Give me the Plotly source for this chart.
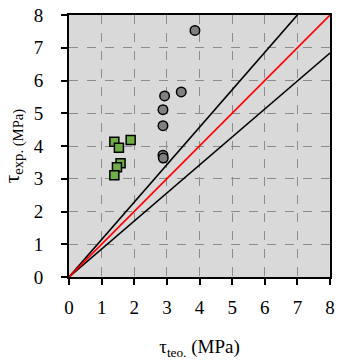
import plotly.graph_objects as go

# Data
circ_x = [3.86, 3.44, 2.93, 2.88, 2.88, 2.88, 2.89]
circ_y = [7.53, 5.65, 5.53, 5.11, 4.62, 3.72, 3.63]
sq_x = [1.39, 1.53, 1.89, 1.58, 1.47, 1.39]
sq_y = [4.13, 3.95, 4.18, 3.47, 3.35, 3.11]
line_x = [0, 8]
upper_slope = 1.143
lower_slope = 0.855
tick_vals = [0, 1, 2, 3, 4, 5, 6, 7, 8]

SERIF = "Liberation Serif"

fig = go.Figure()
fig.add_trace(go.Scatter(x=line_x, y=[v * upper_slope for v in line_x], mode="lines",
                         line=dict(color="black", width=1.6), showlegend=False))
fig.add_trace(go.Scatter(x=line_x, y=[v * lower_slope for v in line_x], mode="lines",
                         line=dict(color="black", width=1.6), showlegend=False))
fig.add_trace(go.Scatter(x=line_x, y=line_x, mode="lines",
                         line=dict(color="#FF0000", width=1.6), showlegend=False))
fig.add_trace(go.Scatter(x=sq_x, y=sq_y, mode="markers",
                         marker=dict(symbol="square", size=9, color="#70AD47",
                                     line=dict(color="black", width=1.5)), showlegend=False))
fig.add_trace(go.Scatter(x=circ_x, y=circ_y, mode="markers",
                         marker=dict(symbol="circle", size=9.5, color="#808080",
                                     line=dict(color="black", width=1.5)), showlegend=False))

axis_common = dict(
    range=[0, 8], tickvals=tick_vals, showgrid=True, gridcolor="#8C8C8C",
    griddash="dash", gridwidth=1.3, zeroline=False, showline=True, linecolor="black",
    linewidth=2, mirror=True, ticks="outside", ticklen=6, tickwidth=1.5, tickcolor="black",
    tickfont=dict(family=SERIF, size=19, color="black"), automargin=False,
    ticklabeloverflow="allow",
)
fig.update_xaxes(**axis_common, ticklabelstandoff=6,
                 title=dict(text="τ<sub>teo.</sub> (MPa)",
                            font=dict(family=SERIF, size=19, color="black"),
                            standoff=24))
fig.update_yaxes(**axis_common, ticklabelstandoff=14,
                 title=dict(text="τ<sub>exp. (MPa)</sub>",
                            font=dict(family=SERIF, size=21, color="black"),
                            standoff=10))
fig.update_layout(
    width=339, height=360,
    margin=dict(l=69, r=9, t=15, b=83),
    plot_bgcolor="#D9D9D9", paper_bgcolor="white",
    font=dict(family=SERIF),
)
fig.write_html("out.html", config={"displayModeBar": False},
               post_script="document.body.style.margin='0px';")
